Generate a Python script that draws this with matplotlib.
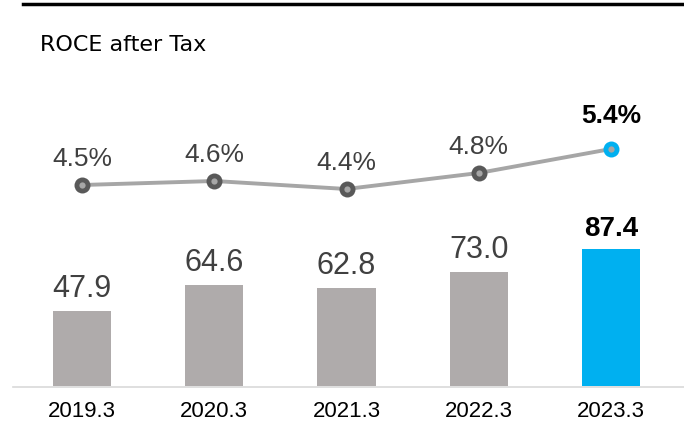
import matplotlib
matplotlib.use("Agg")
import matplotlib.pyplot as plt
from matplotlib.lines import Line2D

categories = ["2019.3", "2020.3", "2021.3", "2022.3", "2023.3"]
bar_values = [47.9, 64.6, 62.8, 73.0, 87.4]
roce_values = [4.5, 4.6, 4.4, 4.8, 5.4]
bar_labels = ["47.9", "64.6", "62.8", "73.0", "87.4"]
roce_labels = ["4.5%", "4.6%", "4.4%", "4.8%", "5.4%"]
title = "ROCE after Tax"

W, H = 684, 427
fig = plt.figure(figsize=(W / 100, H / 100), dpi=100)
fig.patch.set_facecolor("white")

left, right, bottom, top = 16, 677, 387, 60
ax = fig.add_axes([left / W, 1 - bottom / H, (right - left) / W, (bottom - top) / H])
ax2 = ax.twinx()

gray_bar = "#AFABAB"
blue = "#00B0F0"
x = list(range(len(categories)))
colors = [gray_bar] * 4 + [blue]
ax.bar(x, bar_values, width=0.44, color=colors, zorder=2)
ax.set_xlim(-0.5, 4.5)
ax.set_ylim(0, 208.8)
ax2.set_ylim(-0.525, 7.65)

for i, (v, lab) in enumerate(zip(bar_values, bar_labels)):
    last = i == len(bar_values) - 1
    ax.annotate(lab, (i, v), xytext=(0, 8), textcoords="offset pixels",
                ha="center", va="bottom",
                fontsize=20 if last else 22,
                fontweight="bold" if last else "normal",
                color="black" if last else "#404040",
                family="Liberation Sans")

ax2.plot(x, roce_values, color="#A6A6A6", lw=2.8, zorder=3)
for i, v in enumerate(roce_values):
    last = i == len(roce_values) - 1
    ax2.plot(i, v, "o", ms=11.5, mfc=blue if last else "#595959",
             mec="none", zorder=4)
    ax2.plot(i, v, "o", ms=4.5, mfc="#A6A6A6", mec="none", zorder=5)
    ax2.annotate(roce_labels[i], (i, v), xytext=(0, 15 if not last else 22),
                 textcoords="offset pixels", ha="center", va="bottom",
                 fontsize=19,
                 fontweight="bold" if last else "normal",
                 color="black" if last else "#404040",
                 family="Liberation Sans")

for a in (ax, ax2):
    for s in a.spines.values():
        s.set_visible(False)
    a.set_yticks([])
ax.set_xticks(x)
ax.set_xticklabels(categories, fontsize=16, family="Liberation Sans", color="black")
ax.tick_params(axis="x", length=0, pad=10)

# baseline
fig.add_artist(Line2D([13 / W, 1], [1 - 387.5 / H] * 2, color="#D9D9D9", lw=1.2))
# top rule
fig.add_artist(Line2D([23 / W, 1], [1 - 5 / H] * 2, color="black", lw=2.5))
fig.text(40 / W, 1 - 45 / H, title, fontsize=16, family="DejaVu Sans",
         color="black", va="center", ha="left")

fig.savefig("out.png", dpi=100)
